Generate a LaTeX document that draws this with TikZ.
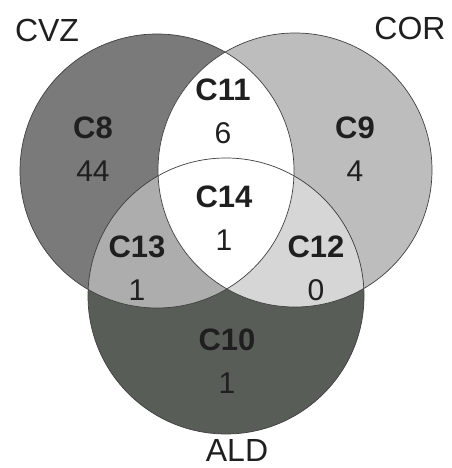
\documentclass[tikz,border=0pt]{standalone}
\usepackage{fontspec}
\setmainfont{Liberation Sans}
\definecolor{cvzgrau}{gray}{0.48}
\definecolor{corgrau}{gray}{0.74}
\definecolor{aldgrau}{RGB}{88,93,88}
\definecolor{grauCXIII}{gray}{0.68}
\definecolor{grauCXII}{gray}{0.84}
\definecolor{schrift}{gray}{0.12}
\tikzset{
	feld/.style={font=\fontsize{31}{31}\selectfont\bfseries, text=schrift, inner sep=0pt},
	zahl/.style={font=\fontsize{30}{30}\selectfont, text=schrift, inner sep=0pt},
	titel/.style={font=\fontsize{32}{32}\selectfont, text=schrift, inner sep=0pt},
	rand/.style={draw=black!75, line width=0.7pt}
}
\begin{document}
\begin{tikzpicture}[x=1pt, y=-1pt]
		\useasboundingbox (0,0) rectangle (451,468);
		% Mittelpunkte
		\coordinate (cvz) at (157,171);
		\coordinate (cor) at (295,170);
		\coordinate (ald) at (226,296);
		
		% Kreise
		\fill[cvzgrau] (cvz) circle[radius=137pt];
		\fill[corgrau] (cor) circle[radius=137pt];
		\fill[aldgrau] (ald) circle[radius=138pt];
		
		% Schnittflaechen
		\begin{scope}
			\clip (cvz) circle[radius=137pt];
			\fill[white] (cor) circle[radius=137pt];
			\fill[grauCXIII] (ald) circle[radius=138pt];
		\end{scope}
		\begin{scope}
			\clip (cor) circle[radius=137pt];
			\fill[grauCXII] (ald) circle[radius=138pt];
		\end{scope}
		\begin{scope}
			\clip (cvz) circle[radius=137pt];
			\clip (cor) circle[radius=137pt];
			\fill[white] (ald) circle[radius=138pt];
		\end{scope}
		
		% Umrisse
		\draw[rand] (cvz) circle[radius=137pt];
		\draw[rand] (cor) circle[radius=137pt];
		\draw[rand] (ald) circle[radius=138pt];
		
		% Beschriftung der Felder
		\foreach \n/\x/\y/\lab/\wert in {
			c8/93/128/C8/44,
			c9/355/128/C9/4,
			c10/227/340/C10/1,
			c11/223/90/C11/6,
			c12/316/247/C12/0,
			c13/137/247/C13/1,
			c14/224/197/C14/1
		} {
			\node[feld] (\n) at (\x,\y) {\lab};
			\node[zahl] (\n w) at (\x,\y+43) {\wert};
		}
		
		% Mengen
		\node[titel] (tcvz) at (47,30) {CVZ};
		\node[titel] (tcor) at (410,28) {COR};
		\node[titel] (tald) at (237,450) {ALD};
	\end{tikzpicture}
\end{document}
